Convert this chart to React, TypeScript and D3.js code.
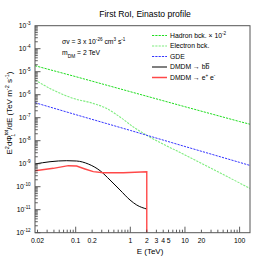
import React from 'react';
import * as d3 from 'd3';

// ---- data ----
const hadronE = [0.018, 0.1, 1, 10, 100, 155];
const hadronY = [1.82e-5, 6.1e-6, 1.35e-6, 3.0e-7, 6.8e-8, 5.2e-8];
const electronE = [0.018, 0.0385, 0.089, 0.207, 0.363, 0.638, 1.12, 1.96, 10, 100, 155];
const electronY = [4.35e-6, 1.6e-6, 7.0e-7, 4.2e-7, 2.56e-7, 1.1e-7, 4.06e-8, 1.77e-8, 2.4e-9, 1.45e-10, 8.5e-11];
const gdeE = [0.018, 0.1, 1, 10, 100, 155];
const gdeY = [4.5e-7, 1.36e-7, 2.8e-8, 5.6e-9, 1.14e-9, 8.4e-10];
const bbE = [0.018, 0.0339, 0.0685, 0.104, 0.17, 0.279, 0.425, 0.647, 0.987, 1.31, 2];
const bbY = [9.7e-10, 1.22e-9, 1.35e-9, 1.31e-9, 9.7e-10, 4.97e-10, 1.95e-10, 7.2e-11, 2.64e-11, 1.6e-11, 1.07e-11];
const eeE = [0.018, 0.0389, 0.0733, 0.104, 0.148, 0.21, 0.32, 0.743, 2, 2];
const eeY = [4.97e-10, 6.3e-10, 8.2e-10, 7.9e-10, 5.9e-10, 4.5e-10, 4.06e-10, 4.06e-10, 4.5e-10, 1e-13];

const xTickValues = [0.02, 0.1, 0.2, 1, 2, 3, 4, 5, 10, 20, 100];
const xTickLabels = ['0.02', '0.1', '0.2', '1', '2', '3', '4', '5', '10', '20', '100'];
const yExponents = [-3, -4, -5, -6, -7, -8, -9, -10, -11, -12];

const xDomain = [0.018, 155];
const yDomain = [1e-12, 1e-3];

const W = 270, H = 260;
const L = 35, R = 250, T = 25.7, B = 232.7;

const FONT = "'Liberation Sans', Arial, Helvetica, sans-serif";

const C_HAD = '#1fdc1f';
const C_ELE = '#7fec7f';
const C_GDE = '#3535ff';
const C_EE = '#ff4848';

export default function App() {
  const x = d3.scaleLog().domain(xDomain).range([L, R]);
  const y = d3.scaleLog().domain(yDomain).range([B, T]);

  const mk = (E: number[], V: number[]) => E.map((e, i) => [e, V[i]] as [number, number]);
  const lineStraight = d3.line<[number, number]>().x(d => x(d[0])).y(d => y(d[1]));
  const lineSmooth = d3.line<[number, number]>().x(d => x(d[0])).y(d => y(d[1])).curve(d3.curveMonotoneX);

  const xMinor: number[] = [];
  for (let e = -2; e <= 2; e++) {
    for (let m = 1; m <= 9; m++) {
      const v = m * Math.pow(10, e);
      if (v >= xDomain[0] && v <= xDomain[1]) xMinor.push(v);
    }
  }
  const yMinor: number[] = [];
  for (let e = -12; e <= -4; e++) {
    for (let m = 1; m <= 9; m++) {
      const v = m * Math.pow(10, e);
      if (v >= yDomain[0] && v <= yDomain[1]) yMinor.push(v);
    }
  }
  const isDecade = (v: number) => Math.abs(Math.log10(v) - Math.round(Math.log10(v))) < 1e-9;

  const legendRows = [
    { y: 35.5, color: C_HAD, dash: '2.2,1.1', width: 1, label: 'Hadron bck.', extra: true },
    { y: 46, color: C_ELE, dash: '2.2,1.1', width: 1.1, label: 'Electron bck.' },
    { y: 56.5, color: C_GDE, dash: '2.2,1.1', width: 1, label: 'GDE' },
    { y: 67, color: '#000000', dash: undefined, width: 1, label: 'bb' },
    { y: 77.5, color: C_EE, dash: undefined, width: 1.5, label: 'ee' },
  ];

  return (
    <svg width={W} height={H} style={{ position: 'absolute', left: 0, top: 0, background: '#fff' }} fontFamily={FONT}>
      <defs>
        <clipPath id="frame">
          <rect x={L} y={T} width={R - L} height={B - T} />
        </clipPath>
      </defs>
      <rect x={0} y={0} width={W} height={H} fill="#fff" />

      <text x={145} y={17} fontSize={8.6} textAnchor="middle" fill="#000">First RoI, Einasto profile</text>

      <g clipPath="url(#frame)" fill="none">
        <path d={lineStraight(mk(hadronE, hadronY)) || ''} stroke={C_HAD} strokeWidth={1} strokeDasharray="2.2,1.1" />
        <path d={lineSmooth(mk(electronE, electronY)) || ''} stroke={C_ELE} strokeWidth={1.1} strokeDasharray="2.2,1.1" />
        <path d={lineStraight(mk(gdeE, gdeY)) || ''} stroke={C_GDE} strokeWidth={1} strokeDasharray="2.2,1.1" />
        <path d={lineSmooth(mk(bbE, bbY)) || ''} stroke="#000" strokeWidth={1} />
        <path d={lineStraight(mk(eeE, eeY)) || ''} stroke={C_EE} strokeWidth={1.4} />
      </g>

      <g stroke="#333" strokeWidth={0.8}>
        {xMinor.map((v, i) => (
          <line key={'xm' + i} x1={x(v)} x2={x(v)} y1={B} y2={B - (isDecade(v) ? 6 : 3)} />
        ))}
        {yMinor.map((v, i) => (
          <line key={'ym' + i} x1={L} x2={L + (isDecade(v) ? 5.5 : 2.8)} y1={y(v)} y2={y(v)} />
        ))}
      </g>

      <rect x={L} y={T} width={R - L} height={B - T} fill="none" stroke="#555" strokeWidth={1} />

      {xTickValues.map((v, i) => (
        <text key={'xl' + i} x={x(v)} y={243} fontSize={6.8} textAnchor="middle" fill="#000">{xTickLabels[i]}</text>
      ))}
      <text x={150} y={253.5} fontSize={8} textAnchor="middle" fill="#000">E (TeV)</text>

      {yExponents.map(e => (
        <text key={'yl' + e} x={30.5} y={y(Math.pow(10, e)) + 2.6} fontSize={6.8} textAnchor="end" fill="#000">
          10<tspan dy={-3.2} fontSize={4.6}>{e}</tspan>
        </text>
      ))}

      <text transform="translate(12,113) rotate(-90)" fontSize={8} textAnchor="middle" fill="#000">
        E<tspan dy={-3.5} fontSize={5.5}>2</tspan>
        <tspan dy={3.5}>dΦ</tspan>
        <tspan dy={-4} fontSize={4.8}>tot</tspan>
        <tspan dx={-6.5} dy={7} fontSize={4.8}>1</tspan>
        <tspan dx={4} dy={-3}>/dE (TeV m</tspan>
        <tspan dy={-3.5} fontSize={5.5}>-2</tspan>
        <tspan dy={3.5}> s</tspan>
        <tspan dy={-3.5} fontSize={5.5}>-1</tspan>
        <tspan dy={3.5}>)</tspan>
      </text>

      <text x={62} y={44} fontSize={6.8} fill="#000">
        σv = 3 x 10<tspan dy={-3.2} fontSize={4.6}>-26</tspan>
        <tspan dy={3.2}> cm</tspan>
        <tspan dy={-3.2} fontSize={4.6}>3</tspan>
        <tspan dy={3.2}> s</tspan>
        <tspan dy={-3.2} fontSize={4.6}>-1</tspan>
      </text>
      <text x={62} y={55} fontSize={6.8} fill="#000">
        m<tspan dy={2.5} fontSize={4.8}>DM</tspan>
        <tspan dy={-2.5}> = 2 TeV</tspan>
      </text>

      {legendRows.map((r, i) => (
        <g key={'lg' + i}>
          <line x1={152} x2={167} y1={r.y} y2={r.y} stroke={r.color} strokeWidth={r.width} strokeDasharray={r.dash} />
          <text x={170} y={r.y + 2.4} fontSize={6.8} fill="#000">
            {r.label === 'bb' ? (
              <>DMDM  → b<tspan textDecoration="overline">b</tspan></>
            ) : r.label === 'ee' ? (
              <>DMDM  → e<tspan dy={-3} fontSize={4.6}>+</tspan><tspan dy={3}> e</tspan><tspan dy={-3} fontSize={4.6}>-</tspan></>
            ) : r.extra ? (
              <>{r.label}  × 10<tspan dy={-3.2} fontSize={4.6}>-2</tspan></>
            ) : (
              r.label
            )}
          </text>
        </g>
      ))}
    </svg>
  );
}
